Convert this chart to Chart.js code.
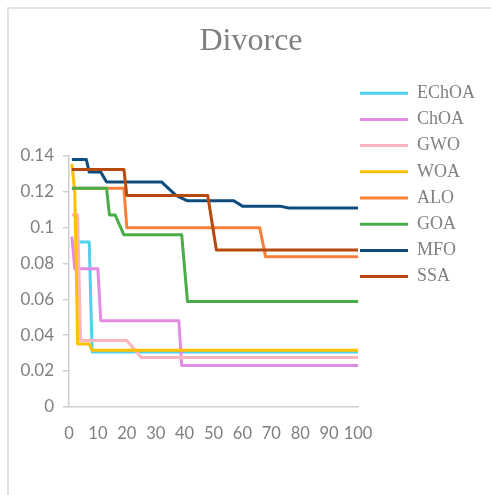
<!DOCTYPE html>
<html>
<head>
<meta charset="utf-8">
<script src="https://cdn.jsdelivr.net/npm/chart.js@4.4.1/dist/chart.umd.min.js"></script>
<style>
  html, body { margin: 0; padding: 0; background: #fff; }
  #wrap { position: relative; width: 491px; height: 495px; overflow: hidden; }
  #frame { position: absolute; left: 7px; top: 7px; width: 600px; height: 600px;
           border-top: 2px solid #e3e3e3; border-left: 2px solid #e3e3e3; }
  canvas { position: absolute; left: 0; top: 0; }
</style>
</head>
<body>
<div id="wrap">
  <div id="frame"></div>
  <canvas id="chart" width="491" height="495"></canvas>
</div>
<script>
// Convergence curves on the Divorce dataset: [iteration, best fitness]
const seriesNames = ['EChOA', 'ChOA', 'GWO', 'WOA', 'ALO', 'GOA', 'MFO', 'SSA'];

const EChOA = [[3, 0.092], [7, 0.092], [8, 0.0305], [100, 0.0305]];
const ChOA  = [[1, 0.095], [2, 0.077], [10, 0.077], [11, 0.048], [38, 0.048], [39, 0.023], [100, 0.023]];
const GWO   = [[1, 0.107], [3, 0.107], [4, 0.037], [20, 0.037], [25, 0.0275], [100, 0.0275]];
const WOA   = [[1, 0.1355], [2, 0.12], [3, 0.035], [7, 0.035], [8, 0.0315], [100, 0.0315]];
const ALO   = [[1, 0.122], [19, 0.122], [20, 0.100], [66, 0.100], [68, 0.0838], [100, 0.0838]];
const GOA   = [[1, 0.122], [13, 0.122], [14, 0.107], [16, 0.107], [19, 0.096], [39, 0.096], [41, 0.0587], [100, 0.0587]];
const MFO   = [[1, 0.138], [6, 0.138], [7, 0.131], [11, 0.131], [13, 0.1255], [32, 0.1255], [37, 0.118], [41, 0.115],
               [57, 0.115], [60, 0.112], [73, 0.112], [76, 0.111], [100, 0.111]];
const SSA   = [[1, 0.1325], [19, 0.1325], [20, 0.118], [48, 0.118], [51, 0.0875], [100, 0.0875]];

const seriesValues = [EChOA, ChOA, GWO, WOA, ALO, GOA, MFO, SSA];

// axis ticks
const xTicks = [0, 10, 20, 30, 40, 50, 60, 70, 80, 90, 100];
const yTicks = [0, 0.02, 0.04, 0.06, 0.08, 0.1, 0.12, 0.14];

const lineColors = ['#52cfec', '#e28be3', '#ffb5bd', '#ffc000', '#f9803a', '#4aae48', '#0f4c7e', '#b8490c'];

const datasets = seriesNames.map((name, i) => ({
  label: name,
  data: seriesValues[i].map(([x, y]) => ({ x, y })),
  borderColor: lineColors[i],
  backgroundColor: lineColors[i],
  borderWidth: 3,
  pointRadius: 0,
  tension: 0,
  fill: false,
  borderJoinStyle: 'round',
  order: seriesNames.length - i   // later series drawn on top
}));

const axisGray = '#cfcfcf';
const textGray = '#7f7f7f';
const LEGEND_WIDTH = 133;

// give the right-hand legend a fixed column width
const fixedLegendWidth = {
  id: 'fixedLegendWidth',
  beforeLayout(chart) {
    const lg = chart.legend;
    if (lg && !lg._widthFixed) {
      const fit = lg.fit.bind(lg);
      lg.fit = function () { fit(); this.width = LEGEND_WIDTH; };
      lg._widthFixed = true;
    }
  }
};

new Chart(document.getElementById('chart'), {
  type: 'line',
  data: { datasets },
  plugins: [fixedLegendWidth],
  options: {
    responsive: false,
    animation: false,
    devicePixelRatio: 1,
    layout: { padding: { left: 11, right: 0, top: 0, bottom: 0 } },
    plugins: {
      tooltip: { enabled: false },
      title: {
        display: true,
        text: 'Divorce',
        color: textGray,
        font: { family: '"Liberation Serif", "Times New Roman", serif', size: 32, weight: 'normal', lineHeight: 1.2 },
        padding: { top: 22.3, bottom: 95.3 }
      },
      legend: {
        position: 'right',
        align: 'start',
        title: { display: true, text: '', font: { size: 10, lineHeight: 1 }, padding: { top: 72.2, bottom: 0 } },
        labels: {
          color: textGray,
          font: { family: '"Liberation Serif", "Times New Roman", serif', size: 18, lineHeight: '24.2px' },
          boxWidth: 48,
          boxHeight: 3,
          padding: 2,
          generateLabels(chart) {
            const items = Chart.defaults.plugins.legend.labels.generateLabels(chart);
            return items
              .map(it => Object.assign(it, { text: [it.text], fillStyle: it.strokeStyle, lineWidth: 0 }))
              .sort((a, b) => a.datasetIndex - b.datasetIndex);
          }
        }
      }
    },
    scales: {
      x: {
        type: 'linear',
        min: 0,
        max: 100,
        afterFit(scale) { scale.height = 88.3; },
        afterBuildTicks(scale) { scale.ticks = xTicks.map(v => ({ value: v })); },
        grid: { display: false },
        border: { display: true, color: axisGray, width: 1.5 },
        ticks: {
          autoSkip: false,
          maxRotation: 0,
          minRotation: 0,
          padding: 9,
          color: textGray,
          font: { family: 'Lato, "Open Sans", sans-serif', size: 16.5 },
          callback: v => String(v)
        }
      },
      y: {
        min: 0,
        max: 0.14,
        afterFit(scale) { scale.width = 58; },
        afterBuildTicks(scale) { scale.ticks = yTicks.map(v => ({ value: v })); },
        grid: { drawOnChartArea: false, drawTicks: true, tickLength: 6, color: axisGray, lineWidth: 1.5 },
        border: { display: true, color: axisGray, width: 1.5 },
        ticks: {
          padding: 9,
          color: textGray,
          font: { family: 'Lato, "Open Sans", sans-serif', size: 17 },
          callback: v => String(Math.round(v * 100) / 100)
        }
      }
    }
  }
});
</script>
</body>
</html>
